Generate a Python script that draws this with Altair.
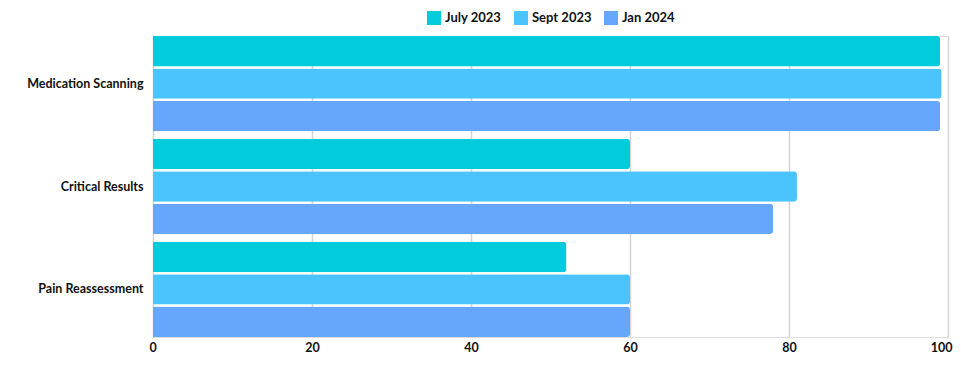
import altair as alt
import pandas as pd

categories = ["Medication Scanning", "Critical Results", "Pain Reassessment"]
series = ["July 2023", "Sept 2023", "Jan 2024"]
july_2023 = [99, 60, 52]
sept_2023 = [99.2, 81, 60]
jan_2024 = [99, 78, 60]
colors = ["#02CBDB", "#4BC4FE", "#66A6FB"]
x_ticks = [0, 20, 40, 60, 80, 100]

rows = []
for s, vals in zip(series, [july_2023, sept_2023, jan_2024]):
    for c, v in zip(categories, vals):
        rows.append({"category": c, "series": s, "value": v})
df = pd.DataFrame(rows)

FONT = "Lato"

chart = alt.Chart(df).mark_bar(cornerRadiusEnd=3).encode(
    y=alt.Y("category:N", sort=categories, title=None,
            scale=alt.Scale(paddingInner=0.075, paddingOuter=0),
            axis=alt.Axis(ticks=False, domain=False, labelPadding=10,
                          labelFontSize=12.5, labelFontWeight="bold",
                          labelColor="#111111", labelFont=FONT)),
    yOffset=alt.YOffset("series:N", sort=series,
                        scale=alt.Scale(paddingInner=0.06, paddingOuter=0)),
    x=alt.X("value:Q", title=None,
            scale=alt.Scale(domain=[0, 100], nice=False),
            axis=alt.Axis(values=x_ticks, ticks=False, domain=False,
                          grid=True, gridColor="#d4d4d4", gridWidth=1.5,
                          labelFlush=True, labelFlushOffset=4,
                          labelPadding=4, labelFontSize=12.5,
                          labelFontWeight="bold", labelColor="#111111",
                          labelFont=FONT)),
    color=alt.Color("series:N", sort=series,
                    scale=alt.Scale(domain=series, range=colors),
                    legend=alt.Legend(title=None, orient="none",
                                      legendX=274, legendY=-25,
                                      direction="horizontal",
                                      symbolType="square", symbolSize=196,
                                      symbolStrokeWidth=0, symbolOpacity=1,
                                      labelFontSize=13, labelFontWeight="bold",
                                      labelColor="#111111", labelFont=FONT,
                                      labelOffset=4, columnPadding=12)),
).properties(
    width=795,
    height=301,
    autosize=alt.AutoSizeParams(type="none"),
    padding={"left": 145, "top": 28, "right": 5, "bottom": 19},
).configure_view(stroke=None).configure(background="white")

chart.save("out.html", embed_options={"renderer": "svg", "actions": False})
